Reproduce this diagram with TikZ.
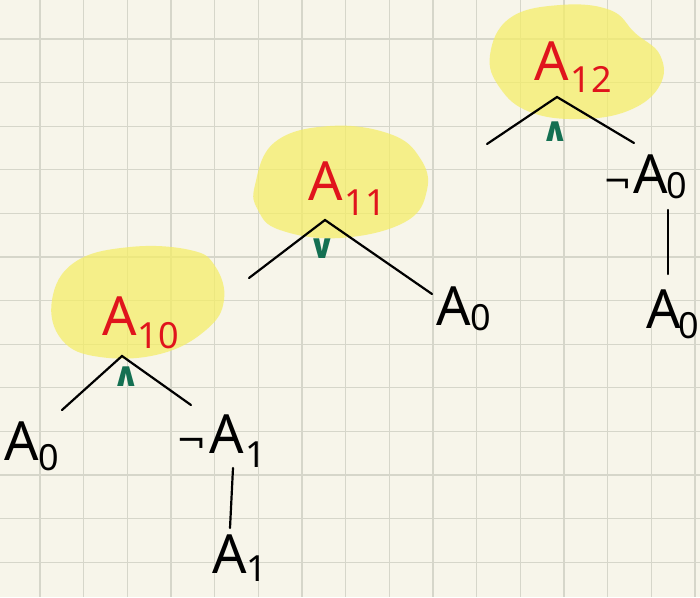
\documentclass[tikz,border=0pt]{standalone}
\usepackage{fontspec}
\setmainfont{Noto Sans}
\newfontfamily\symfont{DejaVu Sans}
\definecolor{paper}{RGB}{247,245,234}
\definecolor{gridc}{RGB}{214,214,202}
\definecolor{hl}{RGB}{245,238,100}
\definecolor{inkred}{RGB}{224,20,28}
\definecolor{inkgreen}{RGB}{20,112,82}
\newcommand\subtx[2][12pt]{\raisebox{-#1}{\fontsize{36}{36}\selectfont #2}}
\tikzset{
  gridline/.style={draw=gridc, line width=1.3pt},
  blob/.style={fill=hl, fill opacity=0.72, draw=none},
  edge/.style={draw=black, line width=2.2pt, line cap=round},
  lbl/.style={anchor=base west, inner sep=0pt, font=\fontsize{54}{54}\selectfont},
  redlbl/.style={lbl, text=inkred},
  op/.style={text=inkgreen, font=\symfont\bfseries\fontsize{34}{34}\selectfont, inner sep=0pt},
}
\begin{document}
\begin{tikzpicture}[x=1pt, y=-1pt]
\useasboundingbox (0,0) rectangle (700,597);
\fill[paper] (0,0) rectangle (700,597);
\foreach \k in {0,...,15} {
  \draw[gridline] ({40+43.67*\k},0) -- ({40+43.67*\k},597);
}
\foreach \k in {0,...,13} {
  \draw[gridline] (0,{39+43.6*\k}) -- (700,{39+43.6*\k});
}
% highlight blobs
\fill[blob] plot[smooth cycle, tension=0.7] coordinates {(52,300) (75,262) (130,247) (190,250) (215,266) (224,300) (206,330) (160,354) (100,357) (62,340)};
\fill[blob] plot[smooth cycle, tension=0.7] coordinates {(255,185) (275,142) (330,126) (390,134) (420,158) (427,190) (405,222) (340,238) (280,230) (258,210)};
\fill[blob] plot[smooth cycle, tension=0.7] coordinates {(490,55) (510,18) (560,5) (610,10) (635,33) (660,55) (660,85) (630,110) (580,119) (530,112) (500,88)};

% labels
\node[redlbl] (a10) at (102,335) {A\subtx[13pt]{\kern1pt 10}};
\node[redlbl] (a11) at (308,200) {A\subtx[15pt]{\kern2pt 11}};
\node[redlbl] (a12) at (534,80) {A\subtx[12pt]{\kern2pt 12}};

\node[lbl] (l0) at (4,460) {A\subtx[10pt]{0}};
\node[lbl] (nl1) at (176,453) {{\symfont\fontsize{36}{36}\selectfont ¬}\kern3pt A\subtx[14pt]{\kern2pt 1}};
\node[lbl] (l1) at (212,573) {A\subtx[8pt]{1}};
\node[lbl] (m0) at (436,325) {A\subtx[5pt]{0}};
\node[lbl] (nr0) at (603,193) {{\symfont\fontsize{34}{34}\selectfont ¬}\kern2pt A\subtx[5pt]{\kern-2pt 0}};
\node[lbl] (r0) at (646,328) {A\subtx[10pt]{\kern-2pt 0}};

% operators
\node[op] (o10) at (126,377) {∧};
\node[op] (o11) at (322,249) {∨};
\node[op] (o12) at (555,132) {∧};

% connectors
\coordinate (p10) at (122,356);
\coordinate (e10l) at (62,410);
\coordinate (e10r) at (191,405);
\coordinate (p11) at (325,220);
\coordinate (e11l) at (249,278);
\coordinate (e11r) at (432,294);
\coordinate (p12) at (557,97);
\coordinate (e12l) at (487,144);
\coordinate (e12r) at (634,143);
\coordinate (v1t) at (233,468);
\coordinate (v1b) at (230,528);
\coordinate (v2t) at (668,210);
\coordinate (v2b) at (668,274);
\draw[edge] (e10l) -- (p10) -- (e10r);
\draw[edge] (e11l) -- (p11) -- (e11r);
\draw[edge] (e12l) -- (p12) -- (e12r);
\draw[edge] (v1t) -- (v1b);
\draw[edge] (v2t) -- (v2b);
\end{tikzpicture}
\end{document}
